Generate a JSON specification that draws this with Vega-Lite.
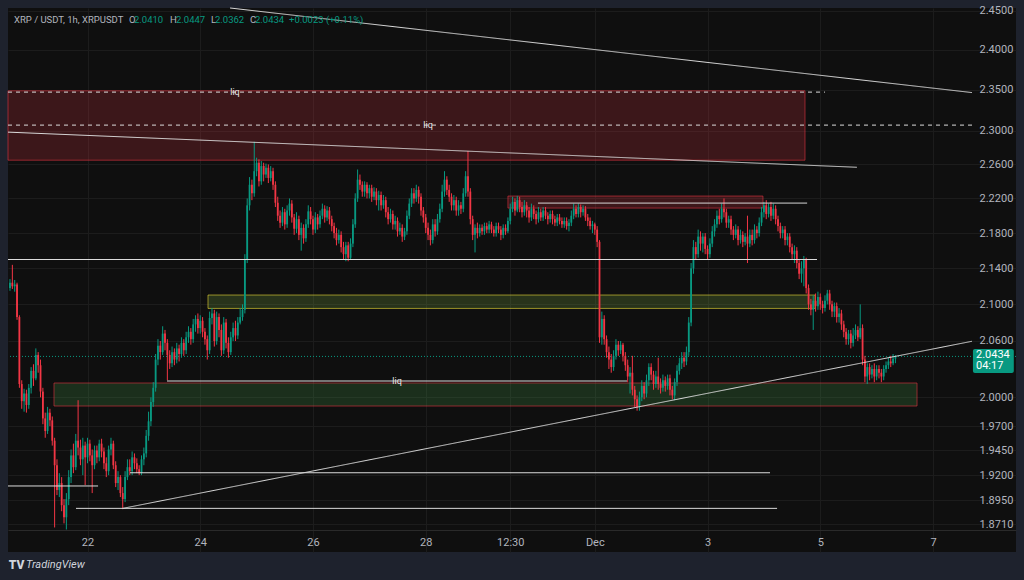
{
"$schema":"https://vega.github.io/schema/vega-lite/v6.json",
"width":1008,"height":544,"autosize":{"type":"none"},
"padding":{"left":8,"top":8,"right":8,"bottom":28},
"background":"#1e222d",
"config":{"view":{"fill":"#0f0f0f","stroke":null},"font":"Roboto","axis":{"title":null}},
"data":{"values":[
{"t":"2025-11-20T15:00","o":2.118,"h":2.128,"l":2.115,"c":2.124},
{"t":"2025-11-20T16:00","o":2.124,"h":2.144,"l":2.117,"c":2.120},
{"t":"2025-11-20T17:00","o":2.120,"h":2.127,"l":2.114,"c":2.122},
{"t":"2025-11-20T18:00","o":2.122,"h":2.124,"l":2.083,"c":2.086},
{"t":"2025-11-20T19:00","o":2.086,"h":2.088,"l":2.010,"c":2.014},
{"t":"2025-11-20T20:00","o":2.014,"h":2.018,"l":1.988,"c":1.996},
{"t":"2025-11-20T21:00","o":1.996,"h":2.009,"l":1.985,"c":2.004},
{"t":"2025-11-20T22:00","o":2.004,"h":2.008,"l":1.984,"c":1.992},
{"t":"2025-11-20T23:00","o":1.992,"h":2.014,"l":1.988,"c":2.010},
{"t":"2025-11-21T00:00","o":2.010,"h":2.032,"l":2.004,"c":2.028},
{"t":"2025-11-21T01:00","o":2.028,"h":2.035,"l":2.012,"c":2.020},
{"t":"2025-11-21T02:00","o":2.020,"h":2.052,"l":2.018,"c":2.045},
{"t":"2025-11-21T03:00","o":2.045,"h":2.048,"l":2.026,"c":2.034},
{"t":"2025-11-21T04:00","o":2.034,"h":2.040,"l":2.000,"c":2.006},
{"t":"2025-11-21T05:00","o":2.006,"h":2.010,"l":1.972,"c":1.978},
{"t":"2025-11-21T06:00","o":1.978,"h":1.984,"l":1.958,"c":1.965},
{"t":"2025-11-21T07:00","o":1.965,"h":1.990,"l":1.962,"c":1.984},
{"t":"2025-11-21T08:00","o":1.984,"h":1.988,"l":1.970,"c":1.976},
{"t":"2025-11-21T09:00","o":1.976,"h":1.980,"l":1.950,"c":1.955},
{"t":"2025-11-21T10:00","o":1.955,"h":1.958,"l":1.868,"c":1.930},
{"t":"2025-11-21T11:00","o":1.930,"h":1.936,"l":1.900,"c":1.905},
{"t":"2025-11-21T12:00","o":1.905,"h":1.922,"l":1.898,"c":1.912},
{"t":"2025-11-21T13:00","o":1.912,"h":1.918,"l":1.884,"c":1.890},
{"t":"2025-11-21T14:00","o":1.890,"h":1.896,"l":1.872,"c":1.878},
{"t":"2025-11-21T15:00","o":1.878,"h":1.902,"l":1.866,"c":1.896},
{"t":"2025-11-21T16:00","o":1.896,"h":1.925,"l":1.890,"c":1.918},
{"t":"2025-11-21T17:00","o":1.918,"h":1.946,"l":1.912,"c":1.940},
{"t":"2025-11-21T18:00","o":1.940,"h":1.952,"l":1.922,"c":1.928},
{"t":"2025-11-21T19:00","o":1.928,"h":1.962,"l":1.925,"c":1.955},
{"t":"2025-11-21T20:00","o":1.955,"h":1.997,"l":1.940,"c":1.948},
{"t":"2025-11-21T21:00","o":1.948,"h":1.956,"l":1.930,"c":1.936},
{"t":"2025-11-21T22:00","o":1.936,"h":1.958,"l":1.920,"c":1.950},
{"t":"2025-11-21T23:00","o":1.950,"h":1.954,"l":1.910,"c":1.938},
{"t":"2025-11-22T00:00","o":1.938,"h":1.958,"l":1.932,"c":1.952},
{"t":"2025-11-22T01:00","o":1.952,"h":1.956,"l":1.934,"c":1.940},
{"t":"2025-11-22T02:00","o":1.940,"h":1.946,"l":1.902,"c":1.930},
{"t":"2025-11-22T03:00","o":1.930,"h":1.950,"l":1.926,"c":1.945},
{"t":"2025-11-22T04:00","o":1.945,"h":1.950,"l":1.932,"c":1.938},
{"t":"2025-11-22T05:00","o":1.938,"h":1.956,"l":1.934,"c":1.952},
{"t":"2025-11-22T06:00","o":1.952,"h":1.957,"l":1.938,"c":1.944},
{"t":"2025-11-22T07:00","o":1.944,"h":1.948,"l":1.926,"c":1.932},
{"t":"2025-11-22T08:00","o":1.932,"h":1.938,"l":1.918,"c":1.924},
{"t":"2025-11-22T09:00","o":1.924,"h":1.950,"l":1.920,"c":1.946},
{"t":"2025-11-22T10:00","o":1.946,"h":1.958,"l":1.940,"c":1.952},
{"t":"2025-11-22T11:00","o":1.952,"h":1.955,"l":1.926,"c":1.930},
{"t":"2025-11-22T12:00","o":1.930,"h":1.934,"l":1.908,"c":1.912},
{"t":"2025-11-22T13:00","o":1.912,"h":1.924,"l":1.905,"c":1.918},
{"t":"2025-11-22T14:00","o":1.918,"h":1.920,"l":1.898,"c":1.902},
{"t":"2025-11-22T15:00","o":1.902,"h":1.908,"l":1.886,"c":1.896},
{"t":"2025-11-22T16:00","o":1.896,"h":1.924,"l":1.893,"c":1.918},
{"t":"2025-11-22T17:00","o":1.918,"h":1.936,"l":1.915,"c":1.928},
{"t":"2025-11-22T18:00","o":1.928,"h":1.936,"l":1.920,"c":1.924},
{"t":"2025-11-22T19:00","o":1.924,"h":1.944,"l":1.920,"c":1.938},
{"t":"2025-11-22T20:00","o":1.938,"h":1.942,"l":1.926,"c":1.932},
{"t":"2025-11-22T21:00","o":1.932,"h":1.937,"l":1.922,"c":1.926},
{"t":"2025-11-22T22:00","o":1.926,"h":1.930,"l":1.920,"c":1.922},
{"t":"2025-11-22T23:00","o":1.922,"h":1.940,"l":1.920,"c":1.936},
{"t":"2025-11-23T00:00","o":1.936,"h":1.948,"l":1.930,"c":1.942},
{"t":"2025-11-23T01:00","o":1.942,"h":1.966,"l":1.938,"c":1.960},
{"t":"2025-11-23T02:00","o":1.960,"h":1.985,"l":1.955,"c":1.975},
{"t":"2025-11-23T03:00","o":1.975,"h":2.000,"l":1.970,"c":1.995},
{"t":"2025-11-23T04:00","o":1.995,"h":2.016,"l":1.990,"c":2.010},
{"t":"2025-11-23T05:00","o":2.010,"h":2.046,"l":2.006,"c":2.040},
{"t":"2025-11-23T06:00","o":2.040,"h":2.062,"l":2.034,"c":2.055},
{"t":"2025-11-23T07:00","o":2.055,"h":2.060,"l":2.040,"c":2.048},
{"t":"2025-11-23T08:00","o":2.048,"h":2.076,"l":2.045,"c":2.068},
{"t":"2025-11-23T09:00","o":2.068,"h":2.072,"l":2.050,"c":2.058},
{"t":"2025-11-23T10:00","o":2.058,"h":2.062,"l":2.018,"c":2.045},
{"t":"2025-11-23T11:00","o":2.045,"h":2.050,"l":2.030,"c":2.036},
{"t":"2025-11-23T12:00","o":2.036,"h":2.054,"l":2.032,"c":2.048},
{"t":"2025-11-23T13:00","o":2.048,"h":2.052,"l":2.034,"c":2.040},
{"t":"2025-11-23T14:00","o":2.040,"h":2.058,"l":2.036,"c":2.052},
{"t":"2025-11-23T15:00","o":2.052,"h":2.056,"l":2.038,"c":2.046},
{"t":"2025-11-23T16:00","o":2.046,"h":2.064,"l":2.042,"c":2.058},
{"t":"2025-11-23T17:00","o":2.058,"h":2.062,"l":2.044,"c":2.050},
{"t":"2025-11-23T18:00","o":2.050,"h":2.070,"l":2.046,"c":2.064},
{"t":"2025-11-23T19:00","o":2.064,"h":2.076,"l":2.058,"c":2.070},
{"t":"2025-11-23T20:00","o":2.070,"h":2.074,"l":2.056,"c":2.062},
{"t":"2025-11-23T21:00","o":2.062,"h":2.084,"l":2.058,"c":2.078},
{"t":"2025-11-23T22:00","o":2.078,"h":2.088,"l":2.070,"c":2.084},
{"t":"2025-11-23T23:00","o":2.084,"h":2.090,"l":2.068,"c":2.074},
{"t":"2025-11-24T00:00","o":2.074,"h":2.088,"l":2.068,"c":2.082},
{"t":"2025-11-24T01:00","o":2.082,"h":2.086,"l":2.064,"c":2.070},
{"t":"2025-11-24T02:00","o":2.070,"h":2.074,"l":2.056,"c":2.062},
{"t":"2025-11-24T03:00","o":2.062,"h":2.066,"l":2.040,"c":2.050},
{"t":"2025-11-24T04:00","o":2.050,"h":2.092,"l":2.046,"c":2.085},
{"t":"2025-11-24T05:00","o":2.085,"h":2.096,"l":2.078,"c":2.090},
{"t":"2025-11-24T06:00","o":2.090,"h":2.094,"l":2.054,"c":2.060},
{"t":"2025-11-24T07:00","o":2.060,"h":2.092,"l":2.056,"c":2.086},
{"t":"2025-11-24T08:00","o":2.086,"h":2.090,"l":2.064,"c":2.072},
{"t":"2025-11-24T09:00","o":2.072,"h":2.078,"l":2.044,"c":2.050},
{"t":"2025-11-24T10:00","o":2.050,"h":2.086,"l":2.046,"c":2.080},
{"t":"2025-11-24T11:00","o":2.080,"h":2.084,"l":2.052,"c":2.058},
{"t":"2025-11-24T12:00","o":2.058,"h":2.064,"l":2.042,"c":2.048},
{"t":"2025-11-24T13:00","o":2.048,"h":2.070,"l":2.045,"c":2.064},
{"t":"2025-11-24T14:00","o":2.064,"h":2.080,"l":2.060,"c":2.074},
{"t":"2025-11-24T15:00","o":2.074,"h":2.082,"l":2.060,"c":2.066},
{"t":"2025-11-24T16:00","o":2.066,"h":2.086,"l":2.062,"c":2.080},
{"t":"2025-11-24T17:00","o":2.080,"h":2.096,"l":2.078,"c":2.086},
{"t":"2025-11-24T18:00","o":2.086,"h":2.100,"l":2.082,"c":2.094},
{"t":"2025-11-24T19:00","o":2.094,"h":2.156,"l":2.090,"c":2.150},
{"t":"2025-11-24T20:00","o":2.150,"h":2.220,"l":2.146,"c":2.212},
{"t":"2025-11-24T21:00","o":2.212,"h":2.245,"l":2.206,"c":2.236},
{"t":"2025-11-24T22:00","o":2.236,"h":2.242,"l":2.218,"c":2.226},
{"t":"2025-11-24T23:00","o":2.226,"h":2.287,"l":2.222,"c":2.252},
{"t":"2025-11-25T00:00","o":2.252,"h":2.268,"l":2.246,"c":2.262},
{"t":"2025-11-25T01:00","o":2.262,"h":2.266,"l":2.234,"c":2.240},
{"t":"2025-11-25T02:00","o":2.240,"h":2.264,"l":2.236,"c":2.258},
{"t":"2025-11-25T03:00","o":2.258,"h":2.262,"l":2.240,"c":2.248},
{"t":"2025-11-25T04:00","o":2.248,"h":2.261,"l":2.244,"c":2.256},
{"t":"2025-11-25T05:00","o":2.256,"h":2.260,"l":2.238,"c":2.244},
{"t":"2025-11-25T06:00","o":2.244,"h":2.258,"l":2.240,"c":2.252},
{"t":"2025-11-25T07:00","o":2.252,"h":2.256,"l":2.230,"c":2.236},
{"t":"2025-11-25T08:00","o":2.236,"h":2.240,"l":2.210,"c":2.215},
{"t":"2025-11-25T09:00","o":2.215,"h":2.222,"l":2.194,"c":2.200},
{"t":"2025-11-25T10:00","o":2.200,"h":2.206,"l":2.186,"c":2.192},
{"t":"2025-11-25T11:00","o":2.192,"h":2.210,"l":2.188,"c":2.204},
{"t":"2025-11-25T12:00","o":2.204,"h":2.208,"l":2.184,"c":2.190},
{"t":"2025-11-25T13:00","o":2.190,"h":2.212,"l":2.186,"c":2.206},
{"t":"2025-11-25T14:00","o":2.206,"h":2.220,"l":2.200,"c":2.214},
{"t":"2025-11-25T15:00","o":2.214,"h":2.218,"l":2.192,"c":2.198},
{"t":"2025-11-25T16:00","o":2.198,"h":2.202,"l":2.178,"c":2.185},
{"t":"2025-11-25T17:00","o":2.185,"h":2.204,"l":2.180,"c":2.196},
{"t":"2025-11-25T18:00","o":2.196,"h":2.200,"l":2.172,"c":2.178},
{"t":"2025-11-25T19:00","o":2.178,"h":2.192,"l":2.160,"c":2.186},
{"t":"2025-11-25T20:00","o":2.186,"h":2.190,"l":2.168,"c":2.174},
{"t":"2025-11-25T21:00","o":2.174,"h":2.196,"l":2.170,"c":2.190},
{"t":"2025-11-25T22:00","o":2.190,"h":2.212,"l":2.186,"c":2.205},
{"t":"2025-11-25T23:00","o":2.205,"h":2.210,"l":2.190,"c":2.196},
{"t":"2025-11-26T00:00","o":2.196,"h":2.200,"l":2.178,"c":2.184},
{"t":"2025-11-26T01:00","o":2.184,"h":2.204,"l":2.180,"c":2.198},
{"t":"2025-11-26T02:00","o":2.198,"h":2.202,"l":2.184,"c":2.190},
{"t":"2025-11-26T03:00","o":2.190,"h":2.206,"l":2.186,"c":2.200},
{"t":"2025-11-26T04:00","o":2.200,"h":2.214,"l":2.196,"c":2.208},
{"t":"2025-11-26T05:00","o":2.208,"h":2.212,"l":2.192,"c":2.198},
{"t":"2025-11-26T06:00","o":2.198,"h":2.211,"l":2.194,"c":2.206},
{"t":"2025-11-26T07:00","o":2.206,"h":2.210,"l":2.190,"c":2.196},
{"t":"2025-11-26T08:00","o":2.196,"h":2.200,"l":2.182,"c":2.188},
{"t":"2025-11-26T09:00","o":2.188,"h":2.192,"l":2.174,"c":2.180},
{"t":"2025-11-26T10:00","o":2.180,"h":2.186,"l":2.166,"c":2.172},
{"t":"2025-11-26T11:00","o":2.172,"h":2.184,"l":2.168,"c":2.178},
{"t":"2025-11-26T12:00","o":2.178,"h":2.182,"l":2.158,"c":2.164},
{"t":"2025-11-26T13:00","o":2.164,"h":2.170,"l":2.150,"c":2.156},
{"t":"2025-11-26T14:00","o":2.156,"h":2.170,"l":2.148,"c":2.166},
{"t":"2025-11-26T15:00","o":2.166,"h":2.170,"l":2.148,"c":2.152},
{"t":"2025-11-26T16:00","o":2.152,"h":2.174,"l":2.150,"c":2.168},
{"t":"2025-11-26T17:00","o":2.168,"h":2.196,"l":2.164,"c":2.190},
{"t":"2025-11-26T18:00","o":2.190,"h":2.226,"l":2.186,"c":2.220},
{"t":"2025-11-26T19:00","o":2.220,"h":2.254,"l":2.216,"c":2.242},
{"t":"2025-11-26T20:00","o":2.242,"h":2.248,"l":2.230,"c":2.236},
{"t":"2025-11-26T21:00","o":2.236,"h":2.240,"l":2.222,"c":2.228},
{"t":"2025-11-26T22:00","o":2.228,"h":2.240,"l":2.222,"c":2.236},
{"t":"2025-11-26T23:00","o":2.236,"h":2.239,"l":2.220,"c":2.226},
{"t":"2025-11-27T00:00","o":2.226,"h":2.236,"l":2.220,"c":2.232},
{"t":"2025-11-27T01:00","o":2.232,"h":2.236,"l":2.216,"c":2.222},
{"t":"2025-11-27T02:00","o":2.222,"h":2.233,"l":2.218,"c":2.228},
{"t":"2025-11-27T03:00","o":2.228,"h":2.232,"l":2.212,"c":2.218},
{"t":"2025-11-27T04:00","o":2.218,"h":2.229,"l":2.206,"c":2.224},
{"t":"2025-11-27T05:00","o":2.224,"h":2.228,"l":2.206,"c":2.212},
{"t":"2025-11-27T06:00","o":2.212,"h":2.224,"l":2.208,"c":2.218},
{"t":"2025-11-27T07:00","o":2.218,"h":2.222,"l":2.198,"c":2.204},
{"t":"2025-11-27T08:00","o":2.204,"h":2.210,"l":2.190,"c":2.196},
{"t":"2025-11-27T09:00","o":2.196,"h":2.208,"l":2.192,"c":2.202},
{"t":"2025-11-27T10:00","o":2.202,"h":2.206,"l":2.184,"c":2.190},
{"t":"2025-11-27T11:00","o":2.190,"h":2.200,"l":2.184,"c":2.194},
{"t":"2025-11-27T12:00","o":2.194,"h":2.198,"l":2.176,"c":2.182},
{"t":"2025-11-27T13:00","o":2.182,"h":2.192,"l":2.178,"c":2.186},
{"t":"2025-11-27T14:00","o":2.186,"h":2.190,"l":2.170,"c":2.176},
{"t":"2025-11-27T15:00","o":2.176,"h":2.186,"l":2.172,"c":2.182},
{"t":"2025-11-27T16:00","o":2.182,"h":2.206,"l":2.178,"c":2.200},
{"t":"2025-11-27T17:00","o":2.200,"h":2.220,"l":2.196,"c":2.214},
{"t":"2025-11-27T18:00","o":2.214,"h":2.232,"l":2.210,"c":2.226},
{"t":"2025-11-27T19:00","o":2.226,"h":2.232,"l":2.214,"c":2.220},
{"t":"2025-11-27T20:00","o":2.220,"h":2.236,"l":2.216,"c":2.230},
{"t":"2025-11-27T21:00","o":2.230,"h":2.234,"l":2.214,"c":2.222},
{"t":"2025-11-27T22:00","o":2.222,"h":2.226,"l":2.200,"c":2.206},
{"t":"2025-11-27T23:00","o":2.206,"h":2.210,"l":2.192,"c":2.198},
{"t":"2025-11-28T00:00","o":2.198,"h":2.202,"l":2.180,"c":2.186},
{"t":"2025-11-28T01:00","o":2.186,"h":2.192,"l":2.172,"c":2.178},
{"t":"2025-11-28T02:00","o":2.178,"h":2.184,"l":2.166,"c":2.172},
{"t":"2025-11-28T03:00","o":2.172,"h":2.196,"l":2.168,"c":2.190},
{"t":"2025-11-28T04:00","o":2.190,"h":2.196,"l":2.176,"c":2.182},
{"t":"2025-11-28T05:00","o":2.182,"h":2.202,"l":2.178,"c":2.196},
{"t":"2025-11-28T06:00","o":2.196,"h":2.214,"l":2.192,"c":2.208},
{"t":"2025-11-28T07:00","o":2.208,"h":2.236,"l":2.204,"c":2.228},
{"t":"2025-11-28T08:00","o":2.228,"h":2.252,"l":2.222,"c":2.242},
{"t":"2025-11-28T09:00","o":2.242,"h":2.246,"l":2.224,"c":2.230},
{"t":"2025-11-28T10:00","o":2.230,"h":2.236,"l":2.216,"c":2.222},
{"t":"2025-11-28T11:00","o":2.222,"h":2.226,"l":2.206,"c":2.212},
{"t":"2025-11-28T12:00","o":2.212,"h":2.224,"l":2.206,"c":2.218},
{"t":"2025-11-28T13:00","o":2.218,"h":2.222,"l":2.200,"c":2.206},
{"t":"2025-11-28T14:00","o":2.206,"h":2.218,"l":2.200,"c":2.212},
{"t":"2025-11-28T15:00","o":2.212,"h":2.216,"l":2.202,"c":2.208},
{"t":"2025-11-28T16:00","o":2.208,"h":2.232,"l":2.204,"c":2.226},
{"t":"2025-11-28T17:00","o":2.226,"h":2.252,"l":2.222,"c":2.246},
{"t":"2025-11-28T18:00","o":2.246,"h":2.276,"l":2.222,"c":2.228},
{"t":"2025-11-28T19:00","o":2.228,"h":2.232,"l":2.190,"c":2.196},
{"t":"2025-11-28T20:00","o":2.196,"h":2.200,"l":2.172,"c":2.178},
{"t":"2025-11-28T21:00","o":2.178,"h":2.190,"l":2.158,"c":2.186},
{"t":"2025-11-28T22:00","o":2.186,"h":2.192,"l":2.174,"c":2.180},
{"t":"2025-11-28T23:00","o":2.180,"h":2.190,"l":2.176,"c":2.186},
{"t":"2025-11-29T00:00","o":2.186,"h":2.190,"l":2.178,"c":2.182},
{"t":"2025-11-29T01:00","o":2.182,"h":2.192,"l":2.178,"c":2.188},
{"t":"2025-11-29T02:00","o":2.188,"h":2.192,"l":2.180,"c":2.184},
{"t":"2025-11-29T03:00","o":2.184,"h":2.194,"l":2.180,"c":2.190},
{"t":"2025-11-29T04:00","o":2.190,"h":2.193,"l":2.180,"c":2.184},
{"t":"2025-11-29T05:00","o":2.184,"h":2.188,"l":2.176,"c":2.180},
{"t":"2025-11-29T06:00","o":2.180,"h":2.192,"l":2.176,"c":2.188},
{"t":"2025-11-29T07:00","o":2.188,"h":2.192,"l":2.180,"c":2.184},
{"t":"2025-11-29T08:00","o":2.184,"h":2.188,"l":2.172,"c":2.178},
{"t":"2025-11-29T09:00","o":2.178,"h":2.190,"l":2.174,"c":2.186},
{"t":"2025-11-29T10:00","o":2.186,"h":2.190,"l":2.178,"c":2.182},
{"t":"2025-11-29T11:00","o":2.182,"h":2.198,"l":2.180,"c":2.194},
{"t":"2025-11-29T12:00","o":2.194,"h":2.214,"l":2.190,"c":2.208},
{"t":"2025-11-29T13:00","o":2.208,"h":2.222,"l":2.204,"c":2.216},
{"t":"2025-11-29T14:00","o":2.216,"h":2.220,"l":2.200,"c":2.206},
{"t":"2025-11-29T15:00","o":2.206,"h":2.223,"l":2.204,"c":2.218},
{"t":"2025-11-29T16:00","o":2.218,"h":2.222,"l":2.204,"c":2.210},
{"t":"2025-11-29T17:00","o":2.210,"h":2.216,"l":2.198,"c":2.204},
{"t":"2025-11-29T18:00","o":2.204,"h":2.218,"l":2.200,"c":2.212},
{"t":"2025-11-29T19:00","o":2.212,"h":2.216,"l":2.198,"c":2.206},
{"t":"2025-11-29T20:00","o":2.206,"h":2.210,"l":2.192,"c":2.198},
{"t":"2025-11-29T21:00","o":2.198,"h":2.214,"l":2.194,"c":2.208},
{"t":"2025-11-29T22:00","o":2.208,"h":2.212,"l":2.196,"c":2.202},
{"t":"2025-11-29T23:00","o":2.202,"h":2.206,"l":2.190,"c":2.196},
{"t":"2025-11-30T00:00","o":2.196,"h":2.210,"l":2.192,"c":2.204},
{"t":"2025-11-30T01:00","o":2.204,"h":2.208,"l":2.194,"c":2.198},
{"t":"2025-11-30T02:00","o":2.198,"h":2.210,"l":2.194,"c":2.206},
{"t":"2025-11-30T03:00","o":2.206,"h":2.210,"l":2.196,"c":2.200},
{"t":"2025-11-30T04:00","o":2.200,"h":2.204,"l":2.190,"c":2.196},
{"t":"2025-11-30T05:00","o":2.196,"h":2.206,"l":2.192,"c":2.202},
{"t":"2025-11-30T06:00","o":2.202,"h":2.206,"l":2.190,"c":2.196},
{"t":"2025-11-30T07:00","o":2.196,"h":2.200,"l":2.188,"c":2.192},
{"t":"2025-11-30T08:00","o":2.192,"h":2.202,"l":2.188,"c":2.198},
{"t":"2025-11-30T09:00","o":2.198,"h":2.202,"l":2.190,"c":2.194},
{"t":"2025-11-30T10:00","o":2.194,"h":2.198,"l":2.186,"c":2.190},
{"t":"2025-11-30T11:00","o":2.190,"h":2.198,"l":2.186,"c":2.194},
{"t":"2025-11-30T12:00","o":2.194,"h":2.198,"l":2.184,"c":2.188},
{"t":"2025-11-30T13:00","o":2.188,"h":2.196,"l":2.182,"c":2.192},
{"t":"2025-11-30T14:00","o":2.192,"h":2.206,"l":2.188,"c":2.200},
{"t":"2025-11-30T15:00","o":2.200,"h":2.214,"l":2.196,"c":2.208},
{"t":"2025-11-30T16:00","o":2.208,"h":2.212,"l":2.198,"c":2.202},
{"t":"2025-11-30T17:00","o":2.202,"h":2.214,"l":2.198,"c":2.210},
{"t":"2025-11-30T18:00","o":2.210,"h":2.213,"l":2.198,"c":2.204},
{"t":"2025-11-30T19:00","o":2.204,"h":2.212,"l":2.200,"c":2.208},
{"t":"2025-11-30T20:00","o":2.208,"h":2.211,"l":2.194,"c":2.198},
{"t":"2025-11-30T21:00","o":2.198,"h":2.202,"l":2.188,"c":2.194},
{"t":"2025-11-30T22:00","o":2.194,"h":2.198,"l":2.184,"c":2.188},
{"t":"2025-11-30T23:00","o":2.188,"h":2.194,"l":2.180,"c":2.190},
{"t":"2025-12-01T00:00","o":2.190,"h":2.192,"l":2.178,"c":2.184},
{"t":"2025-12-01T01:00","o":2.184,"h":2.188,"l":2.164,"c":2.170},
{"t":"2025-12-01T02:00","o":2.170,"h":2.172,"l":2.058,"c":2.064},
{"t":"2025-12-01T03:00","o":2.064,"h":2.092,"l":2.056,"c":2.084},
{"t":"2025-12-01T04:00","o":2.084,"h":2.088,"l":2.056,"c":2.062},
{"t":"2025-12-01T05:00","o":2.062,"h":2.066,"l":2.042,"c":2.048},
{"t":"2025-12-01T06:00","o":2.048,"h":2.054,"l":2.030,"c":2.040},
{"t":"2025-12-01T07:00","o":2.040,"h":2.046,"l":2.026,"c":2.032},
{"t":"2025-12-01T08:00","o":2.032,"h":2.050,"l":2.028,"c":2.044},
{"t":"2025-12-01T09:00","o":2.044,"h":2.062,"l":2.040,"c":2.056},
{"t":"2025-12-01T10:00","o":2.056,"h":2.060,"l":2.044,"c":2.050},
{"t":"2025-12-01T11:00","o":2.050,"h":2.060,"l":2.046,"c":2.056},
{"t":"2025-12-01T12:00","o":2.056,"h":2.058,"l":2.038,"c":2.044},
{"t":"2025-12-01T13:00","o":2.044,"h":2.048,"l":2.028,"c":2.034},
{"t":"2025-12-01T14:00","o":2.034,"h":2.040,"l":2.016,"c":2.022},
{"t":"2025-12-01T15:00","o":2.022,"h":2.032,"l":2.004,"c":2.026},
{"t":"2025-12-01T16:00","o":2.026,"h":2.044,"l":2.002,"c":2.008},
{"t":"2025-12-01T17:00","o":2.008,"h":2.012,"l":1.990,"c":1.998},
{"t":"2025-12-01T18:00","o":1.998,"h":2.002,"l":1.986,"c":1.990},
{"t":"2025-12-01T19:00","o":1.990,"h":2.006,"l":1.986,"c":2.000},
{"t":"2025-12-01T20:00","o":2.000,"h":2.018,"l":1.996,"c":2.012},
{"t":"2025-12-01T21:00","o":2.012,"h":2.016,"l":1.998,"c":2.004},
{"t":"2025-12-01T22:00","o":2.004,"h":2.024,"l":2.000,"c":2.018},
{"t":"2025-12-01T23:00","o":2.018,"h":2.036,"l":2.012,"c":2.032},
{"t":"2025-12-02T00:00","o":2.032,"h":2.036,"l":2.018,"c":2.024},
{"t":"2025-12-02T01:00","o":2.024,"h":2.028,"l":2.008,"c":2.014},
{"t":"2025-12-02T02:00","o":2.014,"h":2.028,"l":2.010,"c":2.022},
{"t":"2025-12-02T03:00","o":2.022,"h":2.042,"l":2.008,"c":2.014},
{"t":"2025-12-02T04:00","o":2.014,"h":2.020,"l":2.004,"c":2.010},
{"t":"2025-12-02T05:00","o":2.010,"h":2.024,"l":2.006,"c":2.018},
{"t":"2025-12-02T06:00","o":2.018,"h":2.022,"l":2.006,"c":2.012},
{"t":"2025-12-02T07:00","o":2.012,"h":2.024,"l":2.008,"c":2.020},
{"t":"2025-12-02T08:00","o":2.020,"h":2.024,"l":2.002,"c":2.008},
{"t":"2025-12-02T09:00","o":2.008,"h":2.012,"l":1.998,"c":2.002},
{"t":"2025-12-02T10:00","o":2.002,"h":2.020,"l":1.997,"c":2.016},
{"t":"2025-12-02T11:00","o":2.016,"h":2.034,"l":2.012,"c":2.028},
{"t":"2025-12-02T12:00","o":2.028,"h":2.042,"l":2.024,"c":2.036},
{"t":"2025-12-02T13:00","o":2.036,"h":2.048,"l":2.030,"c":2.042},
{"t":"2025-12-02T14:00","o":2.042,"h":2.048,"l":2.032,"c":2.038},
{"t":"2025-12-02T15:00","o":2.038,"h":2.054,"l":2.034,"c":2.048},
{"t":"2025-12-02T16:00","o":2.048,"h":2.086,"l":2.044,"c":2.080},
{"t":"2025-12-02T17:00","o":2.080,"h":2.146,"l":2.076,"c":2.140},
{"t":"2025-12-02T18:00","o":2.140,"h":2.172,"l":2.134,"c":2.164},
{"t":"2025-12-02T19:00","o":2.164,"h":2.170,"l":2.150,"c":2.156},
{"t":"2025-12-02T20:00","o":2.156,"h":2.184,"l":2.152,"c":2.176},
{"t":"2025-12-02T21:00","o":2.176,"h":2.182,"l":2.160,"c":2.168},
{"t":"2025-12-02T22:00","o":2.168,"h":2.180,"l":2.158,"c":2.176},
{"t":"2025-12-02T23:00","o":2.176,"h":2.180,"l":2.156,"c":2.162},
{"t":"2025-12-03T00:00","o":2.162,"h":2.166,"l":2.150,"c":2.156},
{"t":"2025-12-03T01:00","o":2.156,"h":2.174,"l":2.152,"c":2.168},
{"t":"2025-12-03T02:00","o":2.168,"h":2.188,"l":2.164,"c":2.182},
{"t":"2025-12-03T03:00","o":2.182,"h":2.196,"l":2.176,"c":2.190},
{"t":"2025-12-03T04:00","o":2.190,"h":2.206,"l":2.186,"c":2.200},
{"t":"2025-12-03T05:00","o":2.200,"h":2.208,"l":2.190,"c":2.196},
{"t":"2025-12-03T06:00","o":2.196,"h":2.214,"l":2.192,"c":2.208},
{"t":"2025-12-03T07:00","o":2.208,"h":2.220,"l":2.198,"c":2.204},
{"t":"2025-12-03T08:00","o":2.204,"h":2.208,"l":2.186,"c":2.192},
{"t":"2025-12-03T09:00","o":2.192,"h":2.200,"l":2.186,"c":2.196},
{"t":"2025-12-03T10:00","o":2.196,"h":2.200,"l":2.178,"c":2.184},
{"t":"2025-12-03T11:00","o":2.184,"h":2.188,"l":2.172,"c":2.178},
{"t":"2025-12-03T12:00","o":2.178,"h":2.190,"l":2.174,"c":2.184},
{"t":"2025-12-03T13:00","o":2.184,"h":2.188,"l":2.166,"c":2.172},
{"t":"2025-12-03T14:00","o":2.172,"h":2.184,"l":2.168,"c":2.178},
{"t":"2025-12-03T15:00","o":2.178,"h":2.182,"l":2.164,"c":2.170},
{"t":"2025-12-03T16:00","o":2.170,"h":2.180,"l":2.166,"c":2.176},
{"t":"2025-12-03T17:00","o":2.176,"h":2.200,"l":2.146,"c":2.168},
{"t":"2025-12-03T18:00","o":2.168,"h":2.184,"l":2.164,"c":2.178},
{"t":"2025-12-03T19:00","o":2.178,"h":2.184,"l":2.166,"c":2.172},
{"t":"2025-12-03T20:00","o":2.172,"h":2.190,"l":2.168,"c":2.184},
{"t":"2025-12-03T21:00","o":2.184,"h":2.188,"l":2.174,"c":2.180},
{"t":"2025-12-03T22:00","o":2.180,"h":2.198,"l":2.176,"c":2.192},
{"t":"2025-12-03T23:00","o":2.192,"h":2.210,"l":2.188,"c":2.204},
{"t":"2025-12-04T00:00","o":2.204,"h":2.216,"l":2.198,"c":2.212},
{"t":"2025-12-04T01:00","o":2.212,"h":2.218,"l":2.196,"c":2.202},
{"t":"2025-12-04T02:00","o":2.202,"h":2.214,"l":2.198,"c":2.210},
{"t":"2025-12-04T03:00","o":2.210,"h":2.216,"l":2.194,"c":2.200},
{"t":"2025-12-04T04:00","o":2.200,"h":2.214,"l":2.196,"c":2.208},
{"t":"2025-12-04T05:00","o":2.208,"h":2.212,"l":2.190,"c":2.196},
{"t":"2025-12-04T06:00","o":2.196,"h":2.200,"l":2.182,"c":2.188},
{"t":"2025-12-04T07:00","o":2.188,"h":2.192,"l":2.174,"c":2.180},
{"t":"2025-12-04T08:00","o":2.180,"h":2.188,"l":2.174,"c":2.184},
{"t":"2025-12-04T09:00","o":2.184,"h":2.188,"l":2.166,"c":2.172},
{"t":"2025-12-04T10:00","o":2.172,"h":2.180,"l":2.166,"c":2.176},
{"t":"2025-12-04T11:00","o":2.176,"h":2.180,"l":2.158,"c":2.164},
{"t":"2025-12-04T12:00","o":2.164,"h":2.168,"l":2.150,"c":2.156},
{"t":"2025-12-04T13:00","o":2.156,"h":2.166,"l":2.146,"c":2.160},
{"t":"2025-12-04T14:00","o":2.160,"h":2.164,"l":2.140,"c":2.146},
{"t":"2025-12-04T15:00","o":2.146,"h":2.150,"l":2.128,"c":2.134},
{"t":"2025-12-04T16:00","o":2.134,"h":2.148,"l":2.124,"c":2.140},
{"t":"2025-12-04T17:00","o":2.140,"h":2.154,"l":2.120,"c":2.150},
{"t":"2025-12-04T18:00","o":2.150,"h":2.152,"l":2.112,"c":2.118},
{"t":"2025-12-04T19:00","o":2.118,"h":2.122,"l":2.094,"c":2.100},
{"t":"2025-12-04T20:00","o":2.100,"h":2.106,"l":2.088,"c":2.094},
{"t":"2025-12-04T21:00","o":2.094,"h":2.110,"l":2.072,"c":2.104},
{"t":"2025-12-04T22:00","o":2.104,"h":2.112,"l":2.092,"c":2.098},
{"t":"2025-12-04T23:00","o":2.098,"h":2.114,"l":2.094,"c":2.108},
{"t":"2025-12-05T00:00","o":2.108,"h":2.112,"l":2.094,"c":2.100},
{"t":"2025-12-05T01:00","o":2.100,"h":2.104,"l":2.090,"c":2.096},
{"t":"2025-12-05T02:00","o":2.096,"h":2.110,"l":2.092,"c":2.104},
{"t":"2025-12-05T03:00","o":2.104,"h":2.116,"l":2.100,"c":2.112},
{"t":"2025-12-05T04:00","o":2.112,"h":2.116,"l":2.094,"c":2.100},
{"t":"2025-12-05T05:00","o":2.100,"h":2.104,"l":2.086,"c":2.092},
{"t":"2025-12-05T06:00","o":2.092,"h":2.102,"l":2.086,"c":2.098},
{"t":"2025-12-05T07:00","o":2.098,"h":2.102,"l":2.080,"c":2.086},
{"t":"2025-12-05T08:00","o":2.086,"h":2.096,"l":2.080,"c":2.090},
{"t":"2025-12-05T09:00","o":2.090,"h":2.094,"l":2.072,"c":2.078},
{"t":"2025-12-05T10:00","o":2.078,"h":2.082,"l":2.064,"c":2.070},
{"t":"2025-12-05T11:00","o":2.070,"h":2.074,"l":2.056,"c":2.062},
{"t":"2025-12-05T12:00","o":2.062,"h":2.072,"l":2.056,"c":2.068},
{"t":"2025-12-05T13:00","o":2.068,"h":2.072,"l":2.052,"c":2.058},
{"t":"2025-12-05T14:00","o":2.058,"h":2.074,"l":2.054,"c":2.066},
{"t":"2025-12-05T15:00","o":2.066,"h":2.078,"l":2.062,"c":2.072},
{"t":"2025-12-05T16:00","o":2.072,"h":2.076,"l":2.060,"c":2.064},
{"t":"2025-12-05T17:00","o":2.064,"h":2.100,"l":2.062,"c":2.074},
{"t":"2025-12-05T18:00","o":2.074,"h":2.078,"l":2.034,"c":2.040},
{"t":"2025-12-05T19:00","o":2.040,"h":2.044,"l":2.016,"c":2.022},
{"t":"2025-12-05T20:00","o":2.022,"h":2.036,"l":2.014,"c":2.032},
{"t":"2025-12-05T21:00","o":2.032,"h":2.036,"l":2.018,"c":2.024},
{"t":"2025-12-05T22:00","o":2.024,"h":2.034,"l":2.020,"c":2.030},
{"t":"2025-12-05T23:00","o":2.030,"h":2.036,"l":2.016,"c":2.022},
{"t":"2025-12-06T00:00","o":2.022,"h":2.034,"l":2.018,"c":2.030},
{"t":"2025-12-06T01:00","o":2.030,"h":2.034,"l":2.020,"c":2.026},
{"t":"2025-12-06T02:00","o":2.026,"h":2.030,"l":2.016,"c":2.022},
{"t":"2025-12-06T03:00","o":2.022,"h":2.034,"l":2.018,"c":2.030},
{"t":"2025-12-06T04:00","o":2.030,"h":2.038,"l":2.026,"c":2.034},
{"t":"2025-12-06T05:00","o":2.034,"h":2.042,"l":2.030,"c":2.038},
{"t":"2025-12-06T06:00","o":2.038,"h":2.044,"l":2.032,"c":2.036},
{"t":"2025-12-06T07:00","o":2.036,"h":2.046,"l":2.034,"c":2.041},
{"t":"2025-12-06T08:00","o":2.041,"h":2.0447,"l":2.0362,"c":2.0434}],
"format":{"parse":{"t":"date"}}},
"layer":[
{"data":{"values":[
{"z":"supply","t1":"2025-11-20T14:09","t2":"2025-12-04T17:30","p1":2.265,"p2":2.349},
{"z":"supply","t1":"2025-11-29T11:00","t2":"2025-12-03T23:36","p1":2.2088,"p2":2.2228},
{"z":"flip","t1":"2025-11-24T03:18","t2":"2025-12-04T21:48","p1":2.0955,"p2":2.1103},
{"z":"demand","t1":"2025-11-21T09:44","t2":"2025-12-06T17:12","p1":1.9909,"p2":2.0151}],
"format":{"parse":{"t1":"date","t2":"date"}}},
"mark":{"type":"rect","fillOpacity":0.2,"strokeOpacity":0.55,"strokeWidth":1},
"encoding":{
"x":{"field":"t1","type":"temporal","scale":{"type":"time","domain":[{"year":2025,"month":11,"date":20,"hours":14,"minutes":9},{"year":2025,"month":12,"date":8,"hours":11,"minutes":20}],"nice":false,"padding":0},
"axis":{"orient":"bottom","offset":-22,"title":null,"values":[{"year":2025,"month":11,"date":22},{"year":2025,"month":11,"date":24},{"year":2025,"month":11,"date":26},{"year":2025,"month":11,"date":28},{"year":2025,"month":11,"date":29,"hours":12},{"year":2025,"month":12,"date":1},{"year":2025,"month":12,"date":3},{"year":2025,"month":12,"date":5},{"year":2025,"month":12,"date":7}],
"labelExpr":"hours(datum.value) == 12 ? '12:30' : (date(datum.value) == 1 ? 'Dec' : '' + date(datum.value))",
"grid":true,"gridColor":"#1c1c1c","gridWidth":1,"domain":true,"domainColor":"#2a2a2a","ticks":false,"labelColor":"#b2b5be","labelFontSize":11,"labelPadding":6,"labelFlush":false,"labelOverlap":false}},
"x2":{"field":"t2"},
"y":{"field":"p1","type":"quantitative","scale":{"type":"log","domain":[1.8441,2.4533],"nice":false,"zero":false,"padding":0},
"axis":{"orient":"right","offset":-44,"title":null,"values":[2.45,2.4,2.35,2.3,2.26,2.22,2.18,2.14,2.1,2.06,2.0,1.97,1.945,1.92,1.895,1.871],"format":".4f",
"grid":true,"gridColor":"#1c1c1c","gridWidth":1,"domain":false,"ticks":false,"labelColor":"#b2b5be","labelFontSize":11,"labelPadding":7,"labelOverlap":false,"labelFlush":false}},
"y2":{"field":"p2"},
"fill":{"field":"z","type":"nominal","scale":{"domain":["supply","flip","demand"],"range":["#f23645","#8bc34a","#4caf50"]},"legend":null},
"stroke":{"field":"z","type":"nominal","scale":{"domain":["supply","flip","demand"],"range":["#f23645","#ffeb3b","#f23645"]},"legend":null}}},
{"data":{"values":[{"p":2.0434}]},
"mark":{"type":"rule","color":"#089981","strokeDash":[1,2],"strokeWidth":1},
"encoding":{"y":{"field":"p","type":"quantitative","scale":{"type":"log","domain":[1.8441,2.4533],"nice":false,"zero":false,"padding":0}}}},
{"mark":{"type":"rule","strokeWidth":1},
"encoding":{
"x":{"field":"t","type":"temporal","scale":{"type":"time","domain":[{"year":2025,"month":11,"date":20,"hours":14,"minutes":9},{"year":2025,"month":12,"date":8,"hours":11,"minutes":20}],"nice":false,"padding":0}},
"y":{"field":"l","type":"quantitative","scale":{"type":"log","domain":[1.8441,2.4533],"nice":false,"zero":false,"padding":0}},
"y2":{"field":"h"},
"color":{"condition":{"test":"datum.c >= datum.o","value":"#089981"},"value":"#f23645"}}},
{"mark":{"type":"bar","width":1.8},
"encoding":{
"x":{"field":"t","type":"temporal","scale":{"type":"time","domain":[{"year":2025,"month":11,"date":20,"hours":14,"minutes":9},{"year":2025,"month":12,"date":8,"hours":11,"minutes":20}],"nice":false,"padding":0}},
"y":{"field":"o","type":"quantitative","scale":{"type":"log","domain":[1.8441,2.4533],"nice":false,"zero":false,"padding":0}},
"y2":{"field":"c"},
"color":{"condition":{"test":"datum.c >= datum.o","value":"#089981"},"value":"#f23645"}}},
{"data":{"values":[
{"s":"solid","t1":"2025-11-24T12:42","t2":"2025-12-07T16:36","p1":2.4533,"p2":2.3468},
{"s":"solid","t1":"2025-11-20T14:09","t2":"2025-12-05T15:36","p1":2.2986,"p2":2.2566},
{"s":"solid","t1":"2025-11-22T15:00","t2":"2025-12-07T16:36","p1":1.8868,"p2":2.0597},
{"s":"dash","t1":"2025-11-20T14:09","t2":"2025-12-05T02:00","p1":2.3474,"p2":2.3474},
{"s":"dash","t1":"2025-11-20T14:09","t2":"2025-12-07T16:36","p1":2.3071,"p2":2.3071},
{"s":"solid","t1":"2025-11-29T23:48","t2":"2025-12-04T18:24","p1":2.2146,"p2":2.2146},
{"s":"solid","t1":"2025-11-20T14:09","t2":"2025-12-04T22:36","p1":2.150,"p2":2.150},
{"s":"solid","t1":"2025-11-23T09:51","t2":"2025-12-01T13:42","p1":2.0172,"p2":2.0172},
{"s":"solid","t1":"2025-11-22T18:06","t2":"2025-12-04T02:36","p1":1.9224,"p2":1.9224},
{"s":"solid","t1":"2025-11-20T14:09","t2":"2025-11-22T04:30","p1":1.9091,"p2":1.9091},
{"s":"solid","t1":"2025-11-21T19:06","t2":"2025-12-04T05:36","p1":1.8868,"p2":1.8868}],
"format":{"parse":{"t1":"date","t2":"date"}}},
"mark":{"type":"rule","color":"#dcdcdc","strokeWidth":1},
"encoding":{
"x":{"field":"t1","type":"temporal","scale":{"type":"time","domain":[{"year":2025,"month":11,"date":20,"hours":14,"minutes":9},{"year":2025,"month":12,"date":8,"hours":11,"minutes":20}],"nice":false,"padding":0}},
"x2":{"field":"t2"},
"y":{"field":"p1","type":"quantitative","scale":{"type":"log","domain":[1.8441,2.4533],"nice":false,"zero":false,"padding":0}},
"y2":{"field":"p2"},
"strokeDash":{"field":"s","type":"nominal","scale":{"domain":["solid","dash"],"range":[[1,0],[4,4]]},"legend":null}}},
{"data":{"values":[
{"t":"2025-11-24T14:48","p":2.3474,"s":"liq"},
{"t":"2025-11-28T01:00","p":2.3071,"s":"liq"},
{"t":"2025-11-27T11:48","p":2.0172,"s":"liq"}],
"format":{"parse":{"t":"date"}}},
"mark":{"type":"text","color":"#e6e6e6","fontSize":9,"align":"center","baseline":"middle"},
"encoding":{
"x":{"field":"t","type":"temporal","scale":{"type":"time","domain":[{"year":2025,"month":11,"date":20,"hours":14,"minutes":9},{"year":2025,"month":12,"date":8,"hours":11,"minutes":20}],"nice":false,"padding":0}},
"y":{"field":"p","type":"quantitative","scale":{"type":"log","domain":[1.8441,2.4533],"nice":false,"zero":false,"padding":0}},
"text":{"field":"s"}}},
{"data":{"values":[
{"t":"2025-11-20T16:42","p":2.4374,"s":"XRP / USDT, 1h, XRPUSDT"},
{"t":"2025-11-22T17:40","p":2.4374,"s":"O"},
{"t":"2025-11-23T11:08","p":2.4374,"s":"H"},
{"t":"2025-11-24T04:35","p":2.4374,"s":"L"},
{"t":"2025-11-24T21:11","p":2.4374,"s":"C"}],
"format":{"parse":{"t":"date"}}},
"mark":{"type":"text","color":"#b2b5be","fontSize":9.5,"align":"left","baseline":"middle"},
"encoding":{
"x":{"field":"t","type":"temporal","scale":{"type":"time","domain":[{"year":2025,"month":11,"date":20,"hours":14,"minutes":9},{"year":2025,"month":12,"date":8,"hours":11,"minutes":20}],"nice":false,"padding":0}},
"y":{"field":"p","type":"quantitative","scale":{"type":"log","domain":[1.8441,2.4533],"nice":false,"zero":false,"padding":0}},
"text":{"field":"s"}}},
{"data":{"values":[
{"t":"2025-11-22T19:48","p":2.4374,"s":"2.0410"},
{"t":"2025-11-23T13:41","p":2.4374,"s":"2.0447"},
{"t":"2025-11-24T06:17","p":2.4374,"s":"2.0362"},
{"t":"2025-11-24T23:19","p":2.4374,"s":"2.0434"},
{"t":"2025-11-25T13:48","p":2.4374,"s":"+0.0023 (+0.11%)"}],
"format":{"parse":{"t":"date"}}},
"mark":{"type":"text","color":"#089981","fontSize":9.5,"align":"left","baseline":"middle"},
"encoding":{
"x":{"field":"t","type":"temporal","scale":{"type":"time","domain":[{"year":2025,"month":11,"date":20,"hours":14,"minutes":9},{"year":2025,"month":12,"date":8,"hours":11,"minutes":20}],"nice":false,"padding":0}},
"y":{"field":"p","type":"quantitative","scale":{"type":"log","domain":[1.8441,2.4533],"nice":false,"zero":false,"padding":0}},
"text":{"field":"s"}}},
{"data":{"values":[{"t1":"2025-12-07T17:00","t2":"2025-12-08T10:24","p1":2.0258,"p2":2.0513}],
"format":{"parse":{"t1":"date","t2":"date"}}},
"mark":{"type":"rect","color":"#089981","cornerRadius":2},
"encoding":{
"x":{"field":"t1","type":"temporal","scale":{"type":"time","domain":[{"year":2025,"month":11,"date":20,"hours":14,"minutes":9},{"year":2025,"month":12,"date":8,"hours":11,"minutes":20}],"nice":false,"padding":0}},
"x2":{"field":"t2"},
"y":{"field":"p1","type":"quantitative","scale":{"type":"log","domain":[1.8441,2.4533],"nice":false,"zero":false,"padding":0}},
"y2":{"field":"p2"}}},
{"data":{"values":[
{"t":"2025-12-07T18:18","p":2.0449,"s":"2.0434"},
{"t":"2025-12-07T18:18","p":2.0331,"s":"04:17"}],
"format":{"parse":{"t":"date"}}},
"mark":{"type":"text","color":"#ffffff","fontSize":11,"align":"left","baseline":"middle"},
"encoding":{
"x":{"field":"t","type":"temporal","scale":{"type":"time","domain":[{"year":2025,"month":11,"date":20,"hours":14,"minutes":9},{"year":2025,"month":12,"date":8,"hours":11,"minutes":20}],"nice":false,"padding":0}},
"y":{"field":"p","type":"quantitative","scale":{"type":"log","domain":[1.8441,2.4533],"nice":false,"zero":false,"padding":0}},
"text":{"field":"s"}}},
{"data":{"values":[{"t":"2025-11-20T14:30","p":1.8311,"s":"TV"}],"format":{"parse":{"t":"date"}}},
"mark":{"type":"text","color":"#d1d4dc","fontSize":12,"fontWeight":900,"align":"left","baseline":"middle"},
"encoding":{
"x":{"field":"t","type":"temporal","scale":{"type":"time","domain":[{"year":2025,"month":11,"date":20,"hours":14,"minutes":9},{"year":2025,"month":12,"date":8,"hours":11,"minutes":20}],"nice":false,"padding":0}},
"y":{"field":"p","type":"quantitative","scale":{"type":"log","domain":[1.8441,2.4533],"nice":false,"zero":false,"padding":0}},
"text":{"field":"s"}}},
{"data":{"values":[{"t":"2025-11-20T21:48","p":1.8311,"s":"TradingView"}],"format":{"parse":{"t":"date"}}},
"mark":{"type":"text","color":"#d1d4dc","fontSize":11,"fontStyle":"italic","align":"left","baseline":"middle"},
"encoding":{
"x":{"field":"t","type":"temporal","scale":{"type":"time","domain":[{"year":2025,"month":11,"date":20,"hours":14,"minutes":9},{"year":2025,"month":12,"date":8,"hours":11,"minutes":20}],"nice":false,"padding":0}},
"y":{"field":"p","type":"quantitative","scale":{"type":"log","domain":[1.8441,2.4533],"nice":false,"zero":false,"padding":0}},
"text":{"field":"s"}}}
]
}
